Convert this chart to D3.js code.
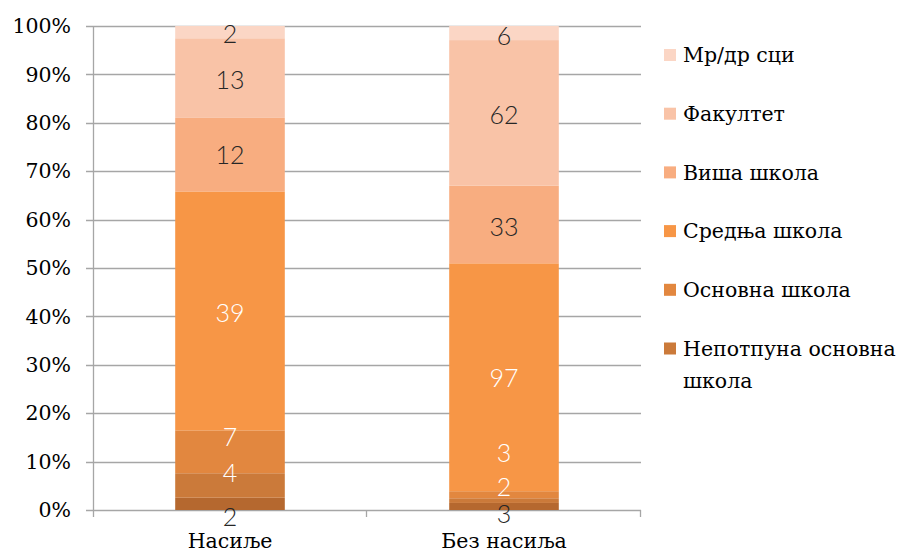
<!DOCTYPE html>
<html>
<head>
<meta charset="utf-8">
<script src="https://cdn.jsdelivr.net/npm/d3@7"></script>
<style>
  html, body { margin: 0; padding: 0; background: #fff; }
  svg { display: block; }
  .serif { font-family: "DejaVu Serif", serif; }
  .lbl { font-family: "Lato", "Noto Sans", sans-serif; }
</style>
</head>
<body>
<svg id="chart" width="909" height="554"></svg>
<script>
// ---- data ----
const categories = ["Насиље", "Без насиља"];
const seriesNames = ["Без школе", "Непотпуна основна школа", "Основна школа", "Средња школа", "Виша школа", "Факултет", "Мр/др сци"];
const valuesNasilje = [2, 4, 7, 39, 12, 13, 2];
const valuesBezNasilja = [3, 2, 3, 97, 33, 62, 6];
const yTicks = [0, 0.1, 0.2, 0.3, 0.4, 0.5, 0.6, 0.7, 0.8, 0.9, 1.0];

// ---- styling / layout ----
const colors = ["#b5682f", "#cb7a3a", "#e2873f", "#f79646", "#f8ad80", "#f9c3a7", "#fbd6c5"];
const legendSeries = [6, 5, 4, 3, 2, 1];
// manual nudges of data labels (px), as in the original chart
const labelShift = [[13, -12, -15, 2, 0, 2, 2], [8, -14, -42, 1, 2, 2, 3]];
const whiteLabel = [false, true, true, true, false, false, false];
const textSize = 20.5;

const svg = d3.select("#chart");
const margin = { left: 93, right: 909 - 641, top: 26, bottom: 554 - 510 };
const W = 909, H = 554;

const rows = categories.map((c, i) => {
  const vals = i === 0 ? valuesNasilje : valuesBezNasilja;
  const row = { category: c };
  seriesNames.forEach((s, j) => row[s] = vals[j]);
  return row;
});

const stack = d3.stack().keys(seriesNames).offset(d3.stackOffsetExpand);
const layers = stack(rows);

const x = d3.scaleBand().domain(categories).range([margin.left, W - margin.right]).paddingInner(0.6).paddingOuter(0.3);
const y = d3.scaleLinear().domain([0, 1]).range([H - margin.bottom, margin.top]);

const gridColor = "#a6a6a6";

// gridlines with left tick marks
svg.append("g").selectAll("line").data(yTicks).join("line")
  .attr("x1", margin.left - 7).attr("x2", W - margin.right)
  .attr("y1", d => Math.round(y(d)) + 0.5).attr("y2", d => Math.round(y(d)) + 0.5)
  .attr("stroke", gridColor).attr("stroke-width", 1.3);

// y-axis line
svg.append("line")
  .attr("x1", margin.left + 0.5).attr("x2", margin.left + 0.5)
  .attr("y1", y(1)).attr("y2", y(0) + 7)
  .attr("stroke", gridColor).attr("stroke-width", 1.3);

// x-axis category boundary ticks
const bounds = [margin.left, margin.left + (W - margin.right - margin.left) / 2, W - margin.right];
svg.append("g").selectAll("line").data(bounds.slice(1)).join("line")
  .attr("x1", d => d - 0.5).attr("x2", d => d - 0.5)
  .attr("y1", y(0)).attr("y2", y(0) + 7)
  .attr("stroke", gridColor).attr("stroke-width", 1.3);

// y labels
svg.append("g").selectAll("text").data(yTicks).join("text")
  .attr("class", "serif")
  .attr("x", 71).attr("y", d => y(d))
  .attr("dy", "0.35em")
  .attr("text-anchor", "end")
  .attr("font-size", textSize).attr("fill", "#000")
  .text(d => d3.format(".0%")(d));

// bars
const gLayers = svg.append("g").selectAll("g").data(layers).join("g")
  .attr("fill", (d, i) => colors[i]);
gLayers.selectAll("rect").data(d => d).join("rect")
  .attr("x", d => x(d.data.category))
  .attr("width", x.bandwidth())
  .attr("y", d => y(d[1]))
  .attr("height", d => y(d[0]) - y(d[1]));

// data labels
layers.forEach((layer, si) => {
  layer.forEach((d, ci) => {
    const cy = (y(d[0]) + y(d[1])) / 2 + labelShift[ci][si];
    svg.append("text")
      .attr("class", "lbl")
      .attr("x", x(d.data.category) + x.bandwidth() / 2)
      .attr("y", cy)
      .attr("dy", "0.36em")
      .attr("text-anchor", "middle")
      .attr("font-size", 25).attr("font-weight", 300)
      .attr("fill", whiteLabel[si] ? "#ffffff" : "#262626")
      .text(d.data[layer.key]);
  });
});

// x labels
svg.append("g").selectAll("text").data(categories).join("text")
  .attr("class", "serif")
  .attr("x", d => x(d) + x.bandwidth() / 2)
  .attr("y", 548)
  .attr("text-anchor", "middle")
  .attr("font-size", textSize).attr("fill", "#000")
  .text(d => d);

// legend
const legendY0 = 55, legendStep = 58.7;
const lg = svg.append("g");
legendSeries.forEach((si, k) => {
  const cy = legendY0 + k * legendStep;
  lg.append("rect").attr("x", 664).attr("y", cy - 6).attr("width", 12).attr("height", 12).attr("fill", colors[si]);
  const name = seriesNames[si];
  const t = lg.append("text").attr("class", "serif").attr("x", 683).attr("y", cy).attr("dy", "0.35em")
    .attr("font-size", textSize).attr("fill", "#000");
  if (name === "Непотпуна основна школа") {
    t.append("tspan").attr("x", 683).text("Непотпуна основна");
    t.append("tspan").attr("x", 683).attr("dy", 32).text("школа");
  } else {
    t.text(name);
  }
});
</script>
</body>
</html>
